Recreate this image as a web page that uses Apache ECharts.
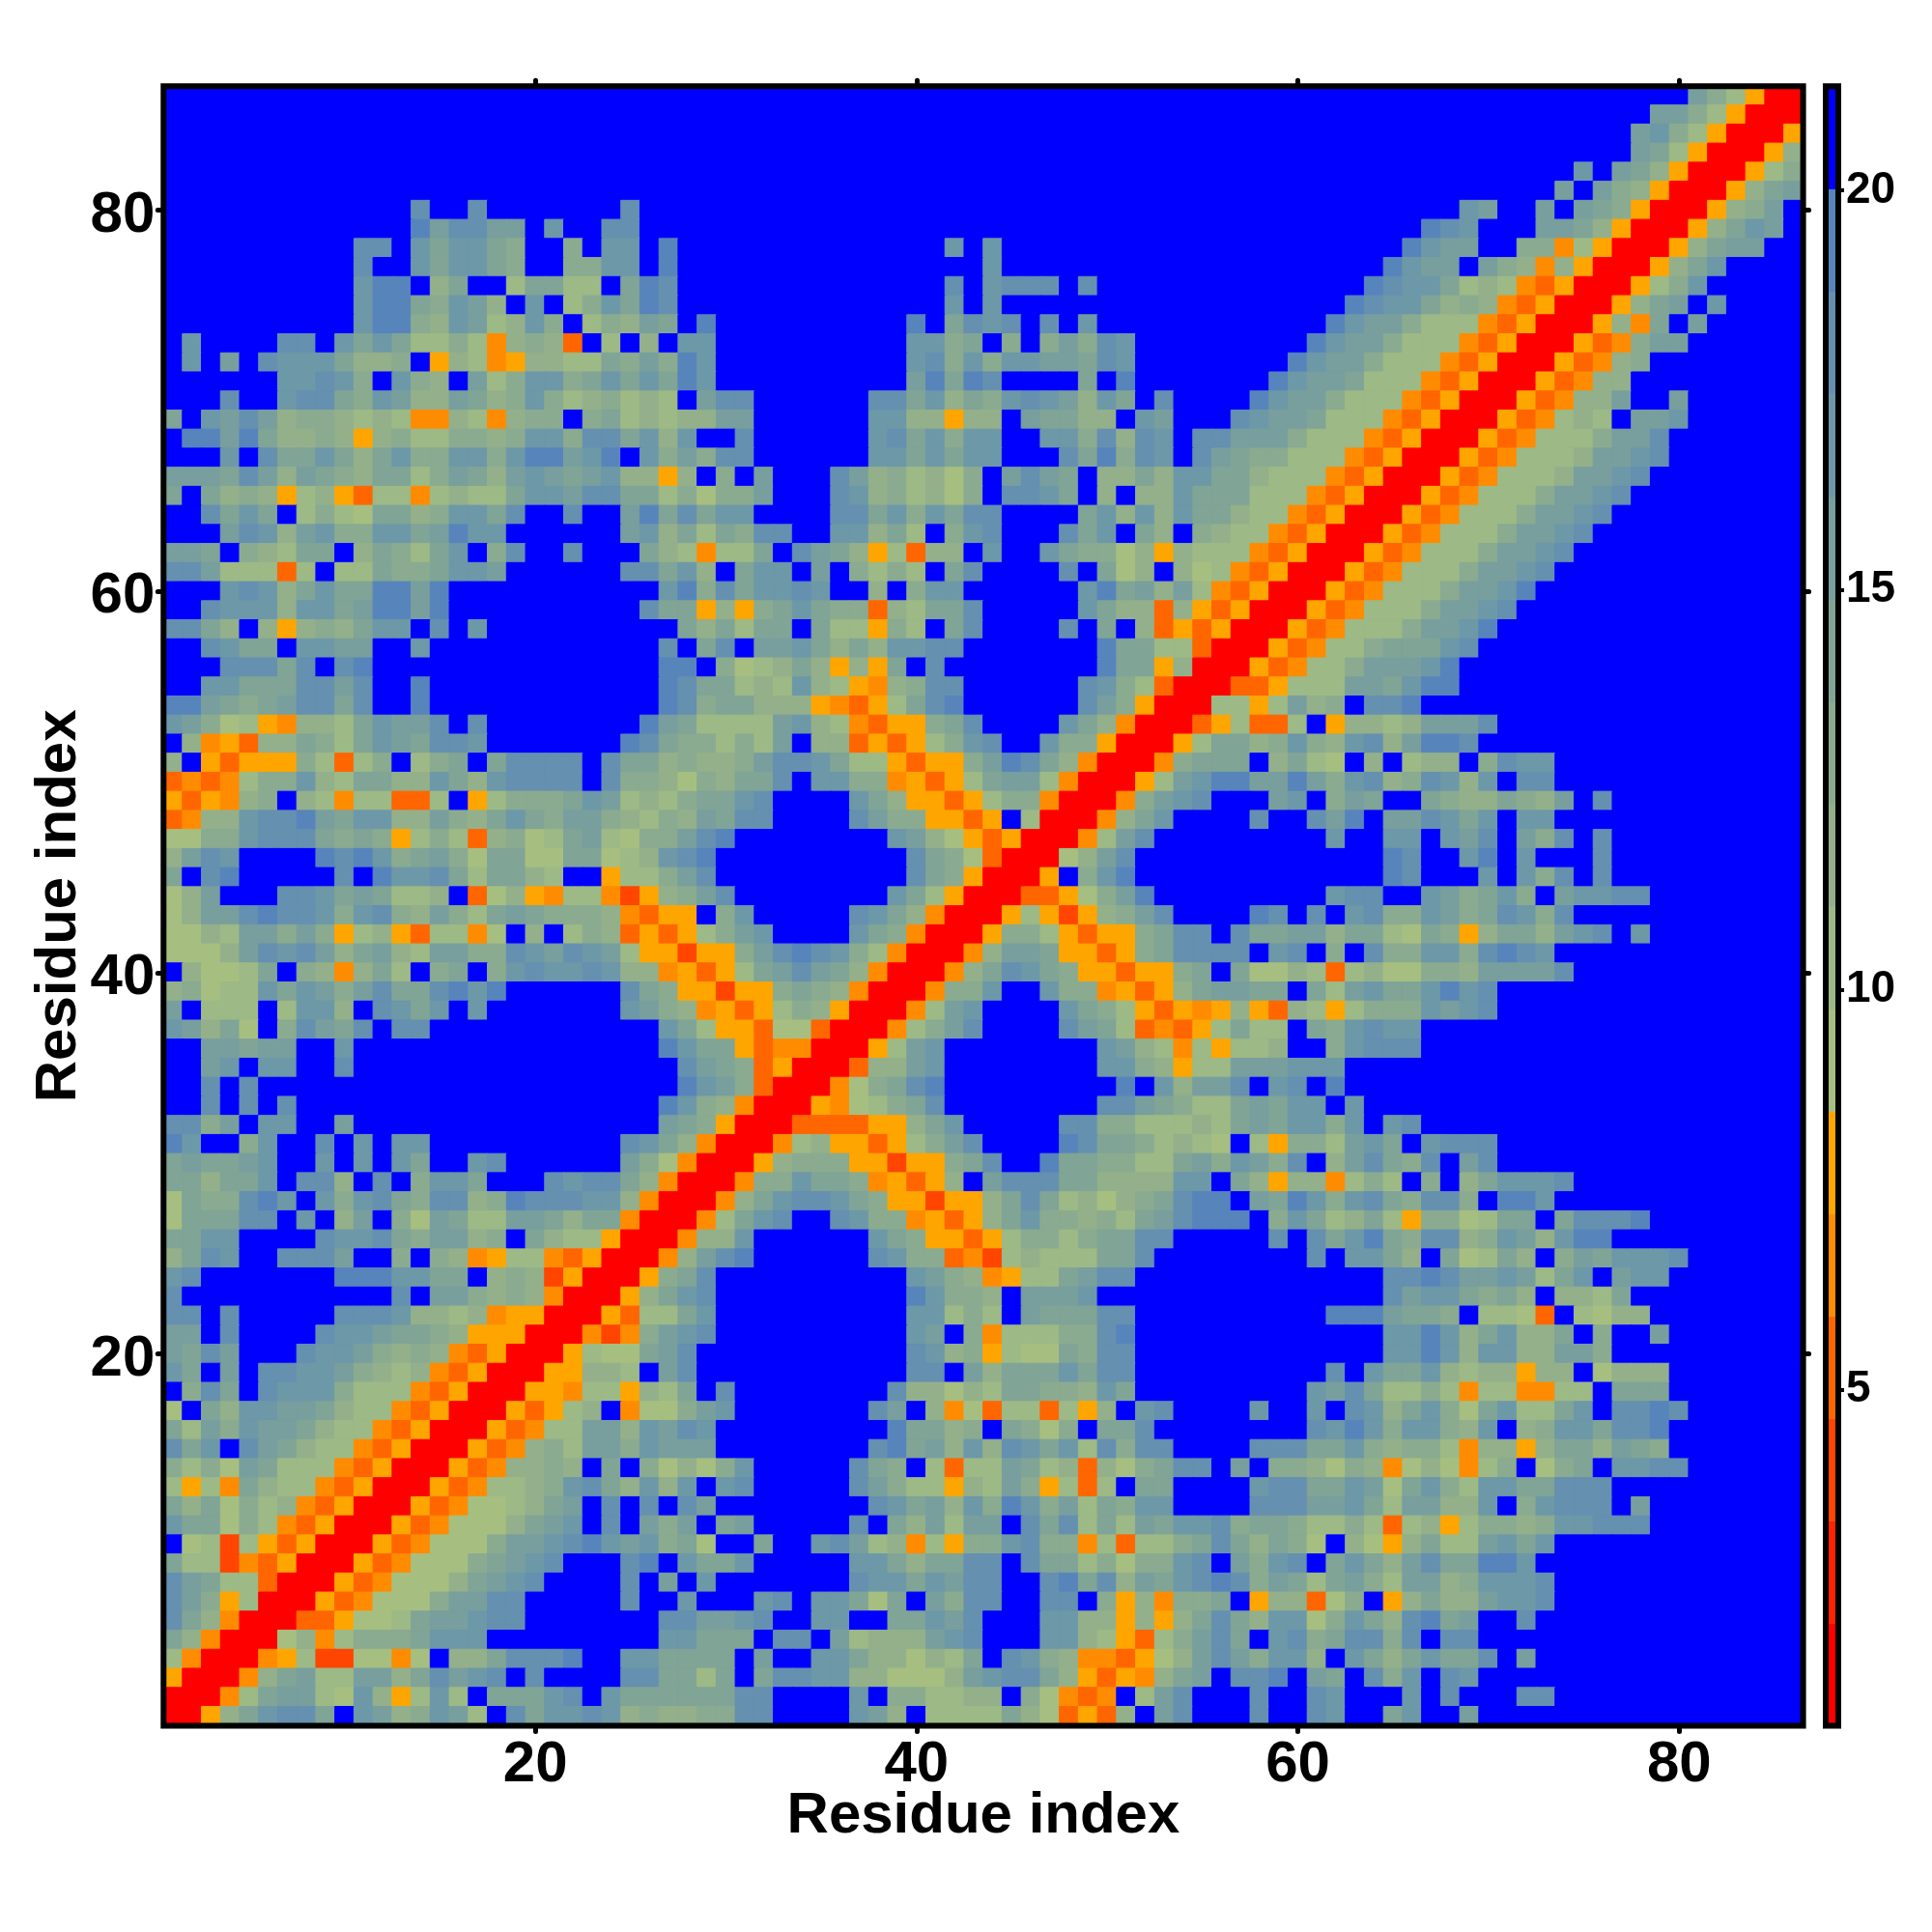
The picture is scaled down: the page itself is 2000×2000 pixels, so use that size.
<!DOCTYPE html>
<html>
<head>
<meta charset="utf-8">
<style>html,body{margin:0;padding:0;background:#fff}#c{width:2000px;height:2000px}</style>
<script src="https://cdn.jsdelivr.net/npm/echarts@6/dist/echarts.min.js"></script>
</head>
<body>
<div id="c"></div>
<script>
const levelCodes = ['R','N','O','P','Q','S','a','b','c','d','e','f','g','h','i','z'];
const levelColors = ['#FF0000','#FF2400','#FF4500','#FF6600','#FF8C00','#FFA500','#A6BF81','#9DB986','#93B08B','#8AAB90','#80A496','#789F9E','#6D98A8','#6590B0','#5785BB','#0000FF'];
const scaleMin = 0.8;
const scaleStep = 1.28;
const scaleMax = 21.3;
const barTicks = [5, 10, 15, 20];
const axisTicks = [20, 40, 60, 80];
const residues = Array.from({length: 86}, (_, i) => String(i + 1));
const axisTitle = 'Residue index';
// Rows from residue 86 (top) to residue 1 (bottom); run-length text: count + level code
const rows = [
"80zfdbS2R",
"78zffdbS3R",
"77zfgdbS3RS",
"77zfebS3RSc",
"74zgzfecS3RSbd",
"73zfzfdcS3RScef",
"13zh2zh7zh43zgf2zfzfedS3RScdfz",
"13zifhhffzg2zhh41zihg3zffecS3RScegfz",
"10zhhzgegged2zdzggzi14zgzg21zigff2zddQbS3RSceff2z",
"10zh2zgegged2zddggzi16zg20zigffzfdcQcS3RSceg4z",
"10zgiizce2zbeebbzeih14zhzghhhzh14zihggebcbQPS3RSbdg5z",
"10zgiiedgfczgzbdgeih14zgzg18zihggecdcQPS3RScefzg4z",
"10zgiidcgfbcgdzbdcfezi10zizehghzhzg12zigffdbbbQPS3RScQezf5z",
"zg4zhhzgegebbdbQcdcPzbzczgg10zggdezdzdfdhg9zigffdbbbQPS3RSPQdff6z",
"zgzfzhgggeccdzScbQSccbbedfdig10zghdgdggffehg8zigffdbbbQPS3RSPQcd8z",
"6zgghgdzgdczfbdggdegegeig10zfieih4zezi7zigffebbbQPS3RSPQcc9z",
"3zh2zghhedgfccfecdgdbcdbcbzfhh6zhhegcedghgfcgezh4zigffdbbbQPS3RSPQccf2zf6z",
"ezgfhfcddcbcbQQcbQcddzdebcbccff6zggccScczfeecczgf3zhgffebbbQPS3RSPQbcbzffg6z",
"ziifieccdcScdbbddcdggdhhegcgzzh6zghegdgg2zggdhchgzhhfffdbbbQPS3RSPQbbbdffh7z",
"3zgzheegecegddggdgiifgizgdfdhh6zggegegg3zheidhgzhfeddbbbQPS3RSPQbbbcffgh7z",
"fffehfcfedceebdfecfgfefgccSczdzf3zhfcdbcadzfhfezccecggeecbbbQPS3RSPQbbbcffgh8z",
"ezecdcSbcSPbbQbcbbeggfhheebdaddf3zhgcdbcadzhhgezczccgeeebbbQPS3RSPQbbbdffgh9z",
"2zhegezbdbaeecdggeh2zh2zfiehegg4zhhegdgehh4zegcgcgeecbbQPS3RSPQbbbdffgh10z",
"3zfhgcfgddggefigg6zfgcebedhh2zggcebzdgh3zhegzeczdcbbQPS3RSPQbbbdffgh11z",
"ffezdcbeezcedbegzdh2zh3zecbQbbezhfecSbPcczg2zgeddacScbbbQPS3RSPQbbbdffgh12z",
"hhfbbbPbzbbeddeggf6zhhegczeggzfzdbdbzeh4zhzeaczcabQPS3RSPQbbbdffgh13z",
"3zghgcegeeiifi11zgidhegghg2zczdgg6zgiefcfbQPS3RSPQbbbdffgi14z",
"2zhgggcggefiifi10zheeScSdegeddPcbeeh5zgeccPcSPS3RSPQbbbdffgh15z",
"hheczcScdceggzhzg10zecebeezebbSdbzeh4zhzezcPSPS3RSPQbbbdffgi16z",
"2zhgeezggff2zg12zhzehzffgececgghh7zieebbP3RSPQbbdeeegh17z",
"3zhhhehzhi15ziizdabcecScSezh8zieeSc3RSPQbbdfffgi18z",
"2zggeeehhfh2zi12ziheebcbgcbSQcdhh6zhgdbP3RPPSbbbffegii18z",
"2ifedefhheh2zi12zihdeecccSQPSbehi6zhfdS3RbbSbfcdzhhi20z",
"gfdabSQccbegffhzh8zifebbbbfgcbQPSSdeh4zgecQ3RPSbPPbzSccbcfffh16z",
"zcQSPccedbegfehhg7ziheddbdbfzccPSPSbdgh2zgddS3RSbeecdgdcghcfiih17z",
"czSPSSSdbPbdzbdezehhhhzheecdccdfhhgebbSPSSdfihecQ3RQdeeezcebazczbcczdhgg13z",
"PQPQbddgcbeeccgecghhhhzhddcadceehzggddQSPSbeffbQ3RSbfgiiffifdghcdhgcgzhh13z",
"SPSQcdzcbQbbPPbzSbdddegfbcbdeegh4zgecSSPSbddQ3RQdfgh3zfgzdfe2zedccedcfzh10z",
"PQccghhifeggccfdcegedffdcbdcfehh4zhfddSSPSzb3RQceg4zh2zhfizffhgegzgg13z",
"aaddghhhededSbdbPcdabefbaddfhi8zgfcaSPS3RQbfh9zg2zggzgfhzfdhzh10z",
"cfhg4zihigdefdaeeaaeeabcghi10zhedaP3Racfh13zih2zgizg3zh10z",
"ezhi5zhzigghebeecb2zSbbdfh10zhedS3RSzdgi13zih3zgzgdhzh10z",
"acf3zhhgefebbczPacSQbbQOScdfh8zgebS3RPPSadfi9zghh2zgfdegdzfgghh8z",
"acffhihhgdghdcfdbefedddcQPSSzdg5zhgecQ3RSbSOScdfh4zihzhzghddgfdehgdh12z",
"aacbffdfdSbcSPbbQazczbdcPSPSbdfg4zgedQ3RSddbSPSSdehhzheeffceebaedSceecfghzg8z",
"aaacfhghfcefcbffddhgfhgfbSSOSSdfhihgdbQ3RQcffeSSPSdehhhhzghzdzhddggdhihg13z",
"zcaabezdcQcebzdezdghgghgccQSPSbefhfecQ3RQcehgedSSPSSdezeaacbPbcaaddcffffh12z",
"cdabbgegfdfheehigi6zhedSSOSSdedcQ3RQddg2zgddQSPSceffeezebfgeegigh16z",
"fzbbbzbggczhgegzg7zgfdcQSPSbdcS3RQbfg4zgedbSPSQScSPcbSbdddgfgh16z",
"gfceazdhfehzhh12zgebSSPaaP3RQbdfh4zhfebPQPSbebbzedghgg20z",
"2zffeff2zg16zigeeSPQQ3RSbfg8zgfcbQbSbbc2zdghhh20z",
"2zfgzgg2zh17zhfedPS3RPccfg8zggdcSbbfffggg24z",
"2zhzh22zigfdP3RQadehi9zizgcffhzghzi24z",
"2zhzhzh19zigdcQ3RSQabdeh8zhhfedbbefeggzg23z",
"hhdfzgg2zf16zfedS3RPPPPSSceg5zhhddbbbcbefeggdgzgh20z",
"ig2zdg2zhzgzgg10zhgecQ3RQbcSSPSbdfh4ziheedbcbazbSddbfgezghhh16z",
"efeefg2zgzgzge2zgh6zfdaQ3RScdddSSOSSdeh2zieeddbbefdgfdhzcfhedhzfh16z",
"eeceegzhhczhzdgge3zhghhecQ3RQddgeedQSPSczfhhheeccccggzecSccQbdbzdzcegggh12z",
"aeddhigzgdghedhhcdihhhggcQ3RQceghhgedSSOSScehebcacdehiizfeigdghedhhdziig13z",
"aeeehhzgzcfzdafebbffeceeQ3RQbegh2zhgddQSPScegddcdbefhiiizdgebcebSddabeezehhhi8z",
"eegg4zhgghedffcdzecbbS3RQccg6zgedSSPSbddbdeehh5zhzhegiedhhcdgfcgii10z",
"cehg2zhhhf2zdzdcQSbbQPS3RQcfhi6zhgddPQObcbbbeeh8zhzggeczeabeczdfegggh6z",
"gh7ziiiggeezcdcOS3RSdeh10zgfdcQSbbefhh13zhhihffgfbegzfgg7z",
"h11zhzffdcdcQ3RScegh10zigddczfffg15zhfggedeczccbe9z",
"hhzh5zhhhgccbcQSS3RSPbbeg10zggbdbzfeeehh10ziiifeedzbbaPzbacc8z",
"ffzh4zhggfeedcSSS3RQOQdfgh10zgfzdQbbbddhi13zggigcegccezd2zf7z",
"fehf3zhggfdcdcQPS3RSbaaefh11zhgcdSbaaedhh13zggigcggccffd10z",
"gezfzhhggfdcbcQPS3RSSccbzfh11zhhzfceeegehh10zhzgeegcbccScczaccc7z",
"zdhezhgggdbbbQPS3RSSQbbScbezh8zhccacbeeddcge9zgfhebbdbQbbQQbbzeee7z",
"azecggffecbbQPS3RSPSbczQaadfg7zhfzcQaPbbPbSczgh4zg2zgzhgcegdaegbbegzhhih6z",
"ebfdgffecbbQPS3RSPQbbffcgfhg9zieecdzedadzeeh8zhgigdggdcgzcdggehhi7z",
"hegzhfecbbQPS3RSPQcdbffdgfff8zhiefcgchgegbhdhh4zhhheegdcddbQccSceecfed7z",
"dbdafebbbQPS3RSPQccdczezdacadg5zhedzbPbbfebcPcadehhzfzddcadcQacaQbdzadezgghh6z",
"bSbQecbbQPS3RSPQbbcdghecgcgzgh5zhfdbbScbfdSbPbzee4zghheegfaegdbggeehhh10z",
"eceadbcQPS3RSPQaabcefzhzhzhf8zhgefcgdigdfbedgg4zhhhffgebffccgzdghhhzf8z",
"geeadbQPS3RSPQaaacefgzhzfdfzef5zhzecfbffzhehbebfegghdeedbbdbPbcSbddcdgghhh8z",
"zabObSPS3RSPQaaadffghigfgdea2ze2zghfbcQbSddghddQbPbbdehecedazcaScebbfgeg13z",
"ebbOQPS3RSPQaaadefgh3zhizgeeg5zggeceehhzheebdaddghzfdghzegecfheeiig14z",
"hfebbP3RSPQaaacefgh4zhzfzg7zhggegfhh2zhiehcfeghihdfebefdbffcdgggh13z",
"hfdSb3RSPQaaadffhh5zh2zg3zghzggeaezfdhh2zhhzdScQddezSccPadzSceccfggh13z",
"hecQ3RPPSaabeffghh7zhhffgh2zgg2zeegfh3zggccScScehecggadgechief2zh14z",
"ecQ3RacQbdddeggg9zggeeezhhzfbcccfgh3zggcbSPbdfhezghdehhdhzhh17z",
"bQ3RQSbOOaaQazccehhhi2zggeeeezf2zggeccacbezhgdcQQPSacfhfdggczgecegeehzf14z",
"S3RQcefbbffcehfghzh4zhheebezehhggccaaacfghhecSPSQcefzhhizfezhdgzhg17z",
"3RQbeffbagcSbgbzeeeghzgeeeeeehh4zgzddbbcczdaQPQzbfh3zh2zhg3zgzh3zhh13z",
"2RSceghhezgfcdgfbzhegghgcdccddhh4zgfczbbbbecaPSPczfh3zh2zhg2zeg2zf17z"
];
function decodeRow(text) {
  const cells = [];
  text.replace(/(\d*)([A-Za-z])/g, (m, n, code) => {
    const k = levelCodes.indexOf(code);
    const count = n === '' ? 1 : parseInt(n, 10);
    for (let i = 0; i < count; i++) cells.push(k);
    return m;
  });
  return cells;
}
const cellItem = (x, y, k) => ({
  value: [x, y, scaleMin + scaleStep * (k + 0.5)],
  itemStyle: {borderColor: levelColors[k], borderWidth: 1}
});
const heatData = [];
rows.forEach((text, r) => {
  decodeRow(text).slice(0, 86).forEach((k, c) => {
    heatData.push(cellItem(c, 85 - r, k));
  });
});
const barData = levelColors.map((_, k) => cellItem(0, k, k));
const pieces = levelColors.map((color, k) => ({
  gte: scaleMin + scaleStep * k, lt: scaleMin + scaleStep * (k + 1), color
}));
const font = '"Liberation Sans", Arial, sans-serif';
const isTick = (i, v) => axisTicks.includes(Number(v));
const tickStyle = {show: true, interval: isTick, alignWithLabel: true, length: 6, lineStyle: {color: '#000', width: 5, cap: 'round'}};
const labelStyle = {interval: isTick, fontFamily: font, fontWeight: 'bold', fontSize: 60, color: '#000'};
const nameStyle = {fontFamily: font, fontWeight: 'bold', fontSize: 60, color: '#000'};
const chart = echarts.init(document.getElementById('c'), null, {renderer: 'canvas', width: 2000, height: 2000});
chart.setOption({
  animation: false,
  backgroundColor: '#fff',
  grid: [
    {left: 169.3, top: 89.2, width: 1697.3, height: 1697.3, show: true, z: 5, borderWidth: 6, borderColor: '#000', backgroundColor: 'transparent', containLabel: false, outerBoundsMode: 'none'},
    {left: 1890, top: 89.2, width: 13, height: 1697.3, show: true, z: 5, borderWidth: 6, borderColor: '#000', backgroundColor: 'transparent', containLabel: false, outerBoundsMode: 'none'}
  ],
  visualMap: {type: 'piecewise', show: false, dimension: 2, seriesIndex: [0, 1], pieces},
  xAxis: [
    {type: 'category', gridIndex: 0, position: 'bottom', data: residues, axisLine: {show: false}, axisTick: tickStyle, axisLabel: Object.assign({margin: 11}, labelStyle), splitLine: {show: false},
     name: axisTitle, nameLocation: 'middle', nameGap: 64, nameMoveOverlap: false, nameTextStyle: nameStyle},
    {type: 'category', gridIndex: 0, position: 'top', data: residues, axisLine: {show: false}, axisTick: tickStyle, axisLabel: {show: false}, splitLine: {show: false}},
    {type: 'category', gridIndex: 1, data: ['bar'], show: false}
  ],
  yAxis: [
    {type: 'category', gridIndex: 0, position: 'left', data: residues, axisLine: {show: false}, axisTick: tickStyle, axisLabel: Object.assign({margin: 9, lineHeight: 11, verticalAlign: 'top'}, labelStyle), splitLine: {show: false},
     name: axisTitle, nameLocation: 'middle', nameGap: 78, nameMoveOverlap: false, nameRotate: 90, nameTextStyle: nameStyle},
    {type: 'category', gridIndex: 0, position: 'right', data: residues, axisLine: {show: false}, axisTick: tickStyle, axisLabel: {show: false}, splitLine: {show: false}},
    {type: 'category', gridIndex: 1, data: levelColors.map((_, k) => String(k)), show: false},
    {type: 'value', gridIndex: 1, position: 'right', min: scaleMin, max: scaleMax, axisLine: {show: false}, splitLine: {show: false},
     axisTick: {show: true, customValues: barTicks, length: 6, lineStyle: {color: '#000', width: 4}},
     axisLabel: {show: true, customValues: barTicks, margin: 8, fontFamily: font, fontWeight: 'bold', fontSize: 46, color: '#000', formatter: v => String(v)}}
  ],
  series: [
    {type: 'heatmap', xAxisIndex: 0, yAxisIndex: 0, data: heatData, progressive: 0, emphasis: {disabled: true}},
    {type: 'heatmap', xAxisIndex: 2, yAxisIndex: 2, data: barData, progressive: 0, emphasis: {disabled: true}}
  ]
});
</script>
</body>
</html>
